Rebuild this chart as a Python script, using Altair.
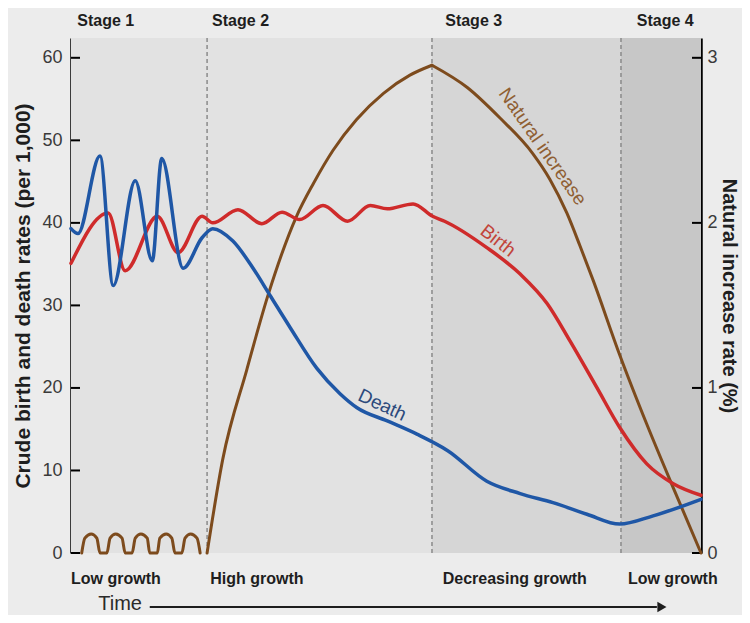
import altair as alt
import pandas as pd

# ---- data (time axis 0..100) ----
death_t = [0, 1.1, 4.6, 6.7, 10.2, 12.9, 14.4, 17.8, 20.8, 22.5, 25.7, 28.9, 31.6, 34.8, 39.0,
           42.7, 45.4, 50.2, 54.9, 59.8, 66.0, 71.3, 76.5, 81.9, 87.1, 92.4, 100]
death_v = [39.3, 38.7, 48.1, 32.4, 45.1, 35.4, 47.8, 34.5, 38.2, 39.3, 37.8, 34.5, 31.2, 27.3, 22.4,
           19.3, 17.6, 16.0, 14.4, 12.4, 8.7, 7.2, 6.1, 4.7, 3.5, 4.5, 6.5]

birth_t = [0, 5.9, 8.6, 13.7, 17.0, 20.8, 22.5, 26.5, 30.3, 33.5, 36.3, 40.0, 43.9, 47.5, 50.2,
           54.3, 57.4, 59.3, 66.0, 71.3, 75.6, 79.2, 83.5, 87.1, 91.4, 95.6, 100]
birth_v = [35.1, 41.2, 34.2, 40.8, 36.4, 40.8, 40.0, 41.6, 39.9, 41.3, 40.4, 42.1, 40.2, 42.1, 41.7,
           42.3, 40.8, 40.2, 37.0, 33.8, 30.2, 25.7, 20.0, 15.2, 10.8, 8.4, 7.0]

# natural increase rate (%), drawn in three segments
ni_t = [1.7, 2.2, 3.2, 4.1, 4.6, 5.7, 6.2, 7.1, 8.1, 8.6, 9.7, 10.2, 11.1, 12.1, 12.5,
        13.7, 14.1, 15.1, 16.0, 16.5, 17.6, 18.1, 19.0, 20.0, 20.5,
        21.6, 24.1, 27.9, 31.3, 35.8, 38.5, 41.6, 45.3, 49.6, 53.8, 57.3,
        57.3, 62.9, 68.1, 73.3, 76.0, 78.7, 80.8, 82.9, 87.1, 91.4, 95.6, 100]
ni_p = [0, 0.09, 0.115, 0.09, 0, 0, 0.09, 0.115, 0.09, 0, 0, 0.09, 0.115, 0.09, 0,
        0, 0.09, 0.115, 0.09, 0, 0, 0.09, 0.115, 0.09, 0,
        0, 0.57, 1.11, 1.565, 2.04, 2.24, 2.44, 2.625, 2.785, 2.895, 2.955,
        2.955, 2.82, 2.635, 2.42, 2.265, 2.06, 1.86, 1.65, 1.2, 0.78, 0.395, 0]
ni_seg = ["a"] * 25 + ["b"] * 11 + ["c"] * 12

stage_names = ["Stage 1", "Stage 2", "Stage 3", "Stage 4"]
stage_label_t = [1.0, 22.4, 59.4, 89.8]
stage_start = [0, 21.6, 57.3, 87.3]
stage_end = [21.6, 57.3, 87.3, 100]
stage_shade = ["#e2e2e2", "#e2e2e2", "#d6d6d6", "#c7c7c7"]
growth_names = ["Low growth", "High growth", "Decreasing growth", "Low growth"]
growth_t = [0, 22.1, 59.0, 88.4]

# line labels: anchor point on the line, rotation
lab_names = ["Birth", "Death"]
lab_t = [66.6, 48.6]
lab_v = [36.7, 16.6]
lab_angle = [38, 25]
lab_color = ["#c2453a", "#2c4a7c"]
ni_lab_t, ni_lab_p, ni_lab_angle = 73.3, 2.42, 55

left_ticks = [0, 10, 20, 30, 40, 50, 60]
right_ticks = [0, 1, 2, 3]

W, H = 630, 515
LDOM = [0, 62.4]
RDOM = [0, 3.12]
FONT = "Liberation Sans"

xs = alt.Scale(domain=[0, 100], nice=False, zero=False)

bg_df = pd.DataFrame({"x0": stage_start, "x1": stage_end, "shade": stage_shade})
bg = alt.Chart(bg_df).mark_rect().encode(
    x=alt.X("x0:Q", scale=xs, axis=alt.Axis(labels=False, ticks=False, title=None, grid=False,
                                            domainColor="black", domainWidth=2.5)),
    x2="x1:Q",
    color=alt.Color("shade:N", scale=None),
)

dash = alt.Chart(pd.DataFrame({"x": stage_start[1:]})).mark_rule(
    color="#8a8a8a", strokeDash=[4, 3], strokeWidth=1.5
).encode(x=alt.X("x:Q", scale=xs, axis=None))


def ly(f, axis=None):
    return alt.Y(f, scale=alt.Scale(domain=LDOM, nice=False, zero=False), axis=axis)


def ry(f, axis=None):
    return alt.Y(f, scale=alt.Scale(domain=RDOM, nice=False, zero=False), axis=axis)


birth = alt.Chart(pd.DataFrame({"t": birth_t, "v": birth_v})).mark_line(
    color="#cf2b2b", strokeWidth=3.5, interpolate="monotone", strokeCap="round"
).encode(
    x=alt.X("t:Q", scale=xs, axis=None),
    y=ly("v:Q", alt.Axis(orient="left", values=left_ticks, ticks=False, grid=False,
                         labelPadding=9, labelFontSize=18, labelFont=FONT, labelColor="#3a3a3a",
                         domainColor="black", domainWidth=2.5,
                         title="Crude birth and death rates (per 1,000)", titleFont=FONT,
                         titleFontSize=21, titleFontWeight="bold", titleColor="#1e1e1e",
                         titlePadding=8)),
)

death = alt.Chart(pd.DataFrame({"t": death_t, "v": death_v})).mark_line(
    color="#1f57a6", strokeWidth=3.5, interpolate="monotone", strokeCap="round"
).encode(x=alt.X("t:Q", scale=xs, axis=None), y=ly("v:Q"))

ni = alt.Chart(pd.DataFrame({"t": ni_t, "p": ni_p, "seg": ni_seg})).mark_line(
    color="#7d4b1d", strokeWidth=3, interpolate="monotone", strokeCap="round"
).encode(
    x=alt.X("t:Q", scale=xs, axis=None),
    y=ry("p:Q", alt.Axis(orient="right", values=right_ticks, ticks=False, grid=False,
                         labelPadding=6, labelFontSize=18, labelFont=FONT, labelColor="#3a3a3a",
                         domainColor="black", domainWidth=2.5,
                         title="Natural increase rate (%)", titleFont=FONT,
                         titleFontSize=20, titleFontWeight="bold", titleColor="#1e1e1e",
                         titlePadding=1)),
    detail="seg:N",
)

lt = alt.Chart(pd.DataFrame({"v": left_ticks})).mark_rule(color="black", strokeWidth=2).encode(
    x=alt.value(0), x2=alt.value(9), y=ly("v:Q"))
rt = alt.Chart(pd.DataFrame({"p": right_ticks})).mark_rule(color="black", strokeWidth=2).encode(
    x=alt.value(W - 9), x2=alt.value(W), y=ry("p:Q"))

stage_txt = alt.Chart(pd.DataFrame({"t": stage_label_t, "s": stage_names})).mark_text(
    align="left", baseline="middle", font=FONT, fontSize=16, fontWeight="bold", color="#1e1e1e"
).encode(x=alt.X("t:Q", scale=xs, axis=None), y=alt.value(-17), text="s:N")

growth_txt = alt.Chart(pd.DataFrame({"t": growth_t, "s": growth_names})).mark_text(
    align="left", baseline="middle", font=FONT, fontSize=16, fontWeight="bold", color="#1e1e1e"
).encode(x=alt.X("t:Q", scale=xs, axis=None), y=alt.value(H + 26), text="s:N")

lab_df = pd.DataFrame({"t": lab_t, "v": lab_v, "s": lab_names, "c": lab_color, "a": lab_angle})
line_lab = alt.Chart(lab_df).mark_text(
    font=FONT, fontSize=19, align="center", baseline="alphabetic", dy=-6
).encode(
    x=alt.X("t:Q", scale=xs, axis=None), y=ly("v:Q"), text="s:N",
    color=alt.Color("c:N", scale=None), angle=alt.Angle("a:Q", scale=None))

ni_lab = alt.Chart(pd.DataFrame({"t": [ni_lab_t], "p": [ni_lab_p], "s": ["Natural increase"]})).mark_text(
    font=FONT, fontSize=19, align="center", baseline="alphabetic", dy=-6, angle=ni_lab_angle,
    color="#8f5f33"
).encode(x=alt.X("t:Q", scale=xs, axis=None), y=ry("p:Q"), text="s:N")

time_txt = alt.Chart(pd.DataFrame({"t": [7.8], "s": ["Time"]})).mark_text(
    font=FONT, fontSize=20, align="center", baseline="middle", color="#2a2a2a"
).encode(x=alt.X("t:Q", scale=xs, axis=None), y=alt.value(H + 51), text="s:N")

arrow = alt.Chart(pd.DataFrame({"a": [12.5], "b": [93.0]})).mark_rule(color="#1e1e1e", strokeWidth=2).encode(
    x=alt.X("a:Q", scale=xs, axis=None), x2="b:Q", y=alt.value(H + 54))
head = alt.Chart(pd.DataFrame({"b": [93.8]})).mark_point(
    shape="triangle-right", filled=True, size=110, color="#1e1e1e", opacity=1
).encode(x=alt.X("b:Q", scale=xs, axis=None), y=alt.value(H + 54))

chart = alt.layer(
    bg, dash, lt, rt, ni, birth, death, line_lab, ni_lab, stage_txt, growth_txt, time_txt, arrow, head
).resolve_scale(y="independent").properties(
    width=W, height=H,
    padding={"left": 63, "top": 30, "right": 41, "bottom": 62},
    autosize=alt.AutoSizeParams(type="none"),
    background="#ececec",
).configure_view(stroke=None)

chart.save("out.html", embed_options={"renderer": "svg", "actions": False})
